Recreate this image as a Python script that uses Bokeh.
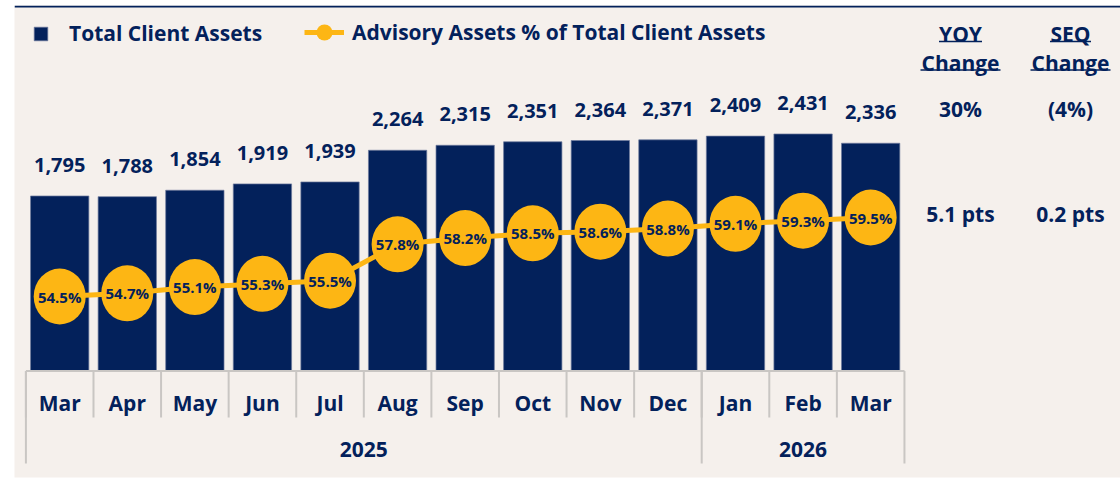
from bokeh.plotting import figure
from bokeh.models import (ColumnDataSource, Range1d, Legend, LegendItem, BoxAnnotation)
from bokeh.core.properties import value
from bokeh.embed import file_html
from bokeh.resources import INLINE

# ---------------- data ----------------
years = ["2025"] * 10 + ["2026"] * 3
months = ["Mar", "Apr", "May", "Jun", "Jul", "Aug", "Sep", "Oct", "Nov", "Dec", "Jan", "Feb", "Mar"]
total_client_assets = [1795, 1788, 1854, 1919, 1939, 2264, 2315, 2351, 2364, 2371, 2409, 2431, 2336]
advisory_pct = [54.5, 54.7, 55.1, 55.3, 55.5, 57.8, 58.2, 58.5, 58.6, 58.8, 59.1, 59.3, 59.5]
year_groups = ["2025", "2026"]

table_headers = ["YOY", "SEQ"]
table_subheaders = ["Change", "Change"]
yoy_change = ["30%", "5.1 pts"]
seq_change = ["(4%)", "0.2 pts"]

# ---------------- style / layout ----------------
NAVY = "#03215B"
GOLD = "#FDB614"
BG = "#F5F0EC"
GRID = "#C9C6C3"
FONT = "Open Sans"

W, H = 1120, 479
LEFT, TOP, BOTTOM = 14, 5, 477          # page pixels of the beige panel
FRAME_W, FRAME_H = W - LEFT, BOTTOM - TOP

CAT_PX = 67.58                          # width of one month slot
FIRST_CENTER_PX = 59.2                  # page x of first month centre
x_start = -(FIRST_CENTER_PX - LEFT) / CAT_PX
x_end = (W - FIRST_CENTER_PX) / CAT_PX

ZERO_PX = 370.5                         # page y of the bar baseline
PX_PER_UNIT = 0.0975
y_end = (ZERO_PX - TOP) / PX_PER_UNIT
y_start = -(BOTTOM - ZERO_PX) / PX_PER_UNIT

PX_PER_PT = 15.8
PCT_ANCHOR, PCT_ANCHOR_PX = 54.5, 296
pct_end = PCT_ANCHOR + (PCT_ANCHOR_PX - TOP) / PX_PER_PT
pct_start = PCT_ANCHOR - (BOTTOM - PCT_ANCHOR_PX) / PX_PER_PT

idx = list(range(len(months)))

src = ColumnDataSource(dict(
    x=idx,
    month=months,
    assets=total_client_assets,
    assets_label=[f"{v:,}" for v in total_client_assets],
    pct=advisory_pct,
    pct_label=[f"{v:.1f}%" for v in advisory_pct],
))

p = figure(x_range=Range1d(x_start, x_end), y_range=Range1d(y_start, y_end),
           width=W, height=H, output_backend="svg", toolbar_location=None,
           x_axis_location=None, y_axis_location=None,
           min_border_left=LEFT, min_border_right=0, min_border_top=TOP,
           min_border_bottom=H - BOTTOM,
           background_fill_color=BG, border_fill_color="white", outline_line_color=None)
p.grid.visible = False
p.extra_y_ranges = {"pct": Range1d(pct_start, pct_end), "px": Range1d(BOTTOM, TOP)}
p.extra_x_ranges = {"px": Range1d(LEFT, W)}

bars = p.vbar(x="x", top="assets", width=0.863, source=src, fill_color=NAVY,
              line_color="#6d7a9c", line_width=1, line_alpha=0.7)

# ---- category axis (month row, year row, separators) ----
short_sep = -46.5 / PX_PER_UNIT
long_sep = -92.5 / PX_PER_UNIT
sep_x = [i - 0.5 for i in idx]
p.segment(x0=sep_x, x1=sep_x, y0=0, y1=short_sep, line_color=GRID, line_width=2)
year_first = [years.index(y) for y in year_groups]
year_last = [len(years) - 1 - years[::-1].index(y) for y in year_groups]
long_x = [i - 0.5 for i in year_first] + [year_last[-1] + 0.5]
p.segment(x0=long_x, x1=long_x, y0=0, y1=long_sep, line_color=GRID, line_width=2)
p.segment(x0=[idx[0] - 0.5], x1=[idx[-1] + 0.5], y0=[0], y1=[0], line_color=GRID, line_width=2)

label_kw = dict(text_font=value(FONT), text_font_style="bold", text_color=NAVY,
                text_align="center", text_baseline="middle")

p.text(x="x", y=0, text="month", y_offset=32, source=src, text_font_size="21px", **label_kw)
year_x = [(a + b) / 2 for a, b in zip(year_first, year_last)]
p.text(x=year_x, y=[0, 0], text=year_groups, y_offset=78.5, text_font_size="21px", **label_kw)

p.text(x="x", y="assets", text="assets_label", y_offset=-31, source=src,
       text_font_size="20px", **label_kw)

line_r = p.line(x="x", y="pct", y_range_name="pct", source=src, line_color=GOLD, line_width=5)
circ_r = p.scatter(x="x", y="pct", y_range_name="pct", source=src, size=50, marker="circle",
                   fill_color=GOLD, line_color=None)
p.ellipse(x="x", y="pct", width=52, height=56, width_units="screen", height_units="screen",
          y_range_name="pct", source=src, fill_color=GOLD, line_color=None)
p.text(x="x", y="pct", text="pct_label", y_range_name="pct", source=src,
       text_font_size="15px", **label_kw)

# thin navy rule across the top of the panel
p.add_layout(BoxAnnotation(top=y_end, bottom=y_end - 2 / PX_PER_UNIT, fill_color=NAVY,
                           fill_alpha=1, line_color=None))

# ---- legend ----
leg_kw = dict(orientation="horizontal", padding=0, margin=0, border_line_color=None,
              background_fill_alpha=0, label_text_font=FONT, label_text_font_style="bold",
              label_text_color=NAVY, label_text_font_size="21px")
leg1 = Legend(items=[LegendItem(label="Total Client Assets", renderers=[bars])],
              location=(18, 430), glyph_width=17, glyph_height=17, label_height=17,
              label_standoff=20, **leg_kw)
leg2 = Legend(items=[LegendItem(label="Advisory Assets % of Total Client Assets",
                                renderers=[line_r, circ_r])],
              location=(290, 424), glyph_width=40, glyph_height=42, label_height=17,
              label_standoff=8, **leg_kw)
p.add_layout(leg1)
p.add_layout(leg2)

# ---- right-hand change table (page-pixel ranges) ----
col_x = [960, 1070]
tkw = dict(label_kw, x_range_name="px", y_range_name="px")
p.text(x=col_x, y=[33, 33], text=table_headers, text_font_size="21px", **tkw)
p.text(x=col_x, y=[62, 62], text=table_subheaders, text_font_size="21px", **tkw)
hw1 = [21.5, 20.5]
hw2 = [40, 40]
p.segment(x0=[c - w for c, w in zip(col_x, hw1)], x1=[c + w for c, w in zip(col_x, hw1)],
          y0=[41, 41], y1=[41, 41], line_color=NAVY, line_width=1.5,
          x_range_name="px", y_range_name="px")
p.segment(x0=[c - w for c, w in zip(col_x, hw2)], x1=[c + w for c, w in zip(col_x, hw2)],
          y0=[69.5, 69.5], y1=[69.5, 69.5], line_color=NAVY, line_width=1.5,
          x_range_name="px", y_range_name="px")
p.text(x=[col_x[0]] * 2, y=[108, 213], text=yoy_change, text_font_size="21px", **tkw)
p.text(x=[col_x[1]] * 2, y=[108, 213], text=seq_change, text_font_size="21px", **tkw)

open("out.html", "w").write(file_html(p, INLINE))
